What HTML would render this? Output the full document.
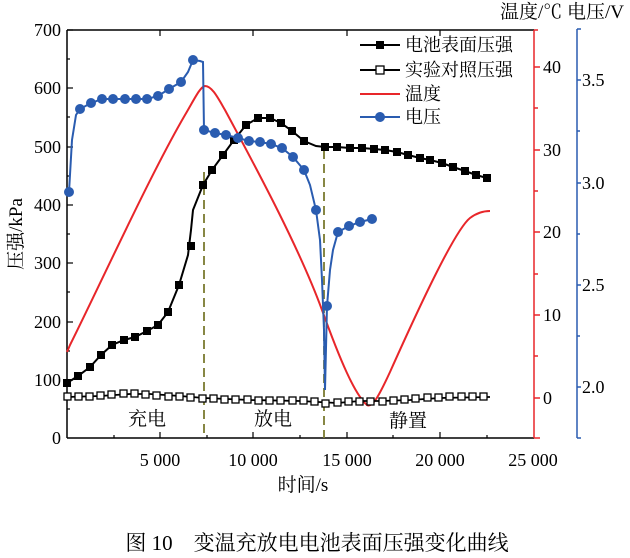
<!DOCTYPE html>
<html><head><meta charset="utf-8"><style>
html,body{margin:0;padding:0;background:#fff;}
svg{display:block;font-family:"Liberation Serif","Noto Serif CJK SC",serif;}
</style></head><body>
<svg width="630" height="558" viewBox="0 0 630 558" xmlns="http://www.w3.org/2000/svg">
<rect width="630" height="558" fill="#fff"/>
<g stroke="#000" stroke-width="1.5" fill="none">
<line x1="67" y1="30" x2="67" y2="438"/>
<line x1="67" y1="438" x2="534" y2="438"/>
<line x1="67" y1="30" x2="534" y2="30"/>
</g>
<g stroke="#000" stroke-width="1.2">
<line x1="67" y1="30" x2="73" y2="30"/><line x1="67" y1="88" x2="73" y2="88"/><line x1="67" y1="147" x2="73" y2="147"/><line x1="67" y1="205" x2="73" y2="205"/><line x1="67" y1="263" x2="73" y2="263"/><line x1="67" y1="322" x2="73" y2="322"/><line x1="67" y1="380" x2="73" y2="380"/>
<line x1="67" y1="59" x2="70" y2="59"/><line x1="67" y1="117" x2="70" y2="117"/><line x1="67" y1="176" x2="70" y2="176"/><line x1="67" y1="234" x2="70" y2="234"/><line x1="67" y1="292" x2="70" y2="292"/><line x1="67" y1="351" x2="70" y2="351"/><line x1="67" y1="409" x2="70" y2="409"/>
<line x1="160" y1="438" x2="160" y2="432"/><line x1="253" y1="438" x2="253" y2="432"/><line x1="347" y1="438" x2="347" y2="432"/><line x1="440" y1="438" x2="440" y2="432"/>
<line x1="114" y1="438" x2="114" y2="435"/><line x1="207" y1="438" x2="207" y2="435"/><line x1="300" y1="438" x2="300" y2="435"/><line x1="393" y1="438" x2="393" y2="435"/><line x1="487" y1="438" x2="487" y2="435"/>
<line x1="160" y1="30" x2="160" y2="36"/><line x1="253" y1="30" x2="253" y2="36"/><line x1="347" y1="30" x2="347" y2="36"/><line x1="440" y1="30" x2="440" y2="36"/>
</g>
<g font-size="18" text-anchor="end" fill="#000">
<text x="61" y="36">700</text><text x="61" y="94">600</text><text x="61" y="153">500</text><text x="61" y="211">400</text><text x="61" y="269">300</text><text x="61" y="328">200</text><text x="61" y="386">100</text><text x="61" y="444">0</text>
</g>
<g font-size="18" text-anchor="middle" fill="#000">
<text x="160" y="466">5 000</text><text x="253" y="466">10 000</text><text x="347" y="466">15 000</text><text x="440" y="466">20 000</text><text x="533" y="466">25 000</text>
</g>
<text x="303" y="491" font-size="19" text-anchor="middle">时间/s</text>
<text transform="translate(22,234) rotate(-90)" font-size="19" text-anchor="middle">压强/kPa</text>
<text x="624" y="18" font-size="19" text-anchor="end">温度/℃  电压/V</text>
<g stroke="#e8262a" stroke-width="1.5">
<line x1="534" y1="30" x2="534" y2="438"/>
<line x1="534" y1="67" x2="540" y2="67"/><line x1="534" y1="150" x2="540" y2="150"/><line x1="534" y1="232" x2="540" y2="232"/><line x1="534" y1="315" x2="540" y2="315"/><line x1="534" y1="398" x2="540" y2="398"/><line x1="534" y1="438" x2="540" y2="438"/>
<line x1="534" y1="30" x2="538" y2="30"/><line x1="534" y1="108" x2="538" y2="108"/><line x1="534" y1="191" x2="538" y2="191"/><line x1="534" y1="274" x2="538" y2="274"/><line x1="534" y1="356" x2="538" y2="356"/>
</g>
<g font-size="18" fill="#000">
<text x="543" y="73">40</text><text x="543" y="156">30</text><text x="543" y="238">20</text><text x="543" y="321">10</text><text x="543" y="404">0</text>
</g>
<g stroke="#2a5cb0" stroke-width="1.5">
<line x1="577" y1="29" x2="577" y2="438"/>
<line x1="577" y1="29" x2="581" y2="29"/><line x1="577" y1="80" x2="581" y2="80"/><line x1="577" y1="131" x2="580" y2="131"/><line x1="577" y1="183" x2="581" y2="183"/><line x1="577" y1="234" x2="580" y2="234"/><line x1="577" y1="285" x2="581" y2="285"/><line x1="577" y1="336" x2="580" y2="336"/><line x1="577" y1="387" x2="581" y2="387"/><line x1="577" y1="438" x2="581" y2="438"/>
</g>
<g font-size="18" fill="#000">
<text x="582" y="86">3.5</text><text x="582" y="189">3.0</text><text x="582" y="291">2.5</text><text x="582" y="393">2.0</text>
</g>
<g stroke="#7a7a30" stroke-width="1.8" stroke-dasharray="9,5">
<line x1="204" y1="172" x2="204" y2="438"/>
<line x1="324" y1="150" x2="324" y2="438"/>
</g>
<path fill="none" stroke="#e8262a" stroke-width="2" d="M67,352 L70,345 C100,285 150,175 185,115 C195,98 200,87 205,86 C212,86 218,98 225,110 C260,175 300,250 322,310 C340,360 355,395 367,405 C372,408 378,398 390,372 C420,305 455,230 470,218 C478,212 485,211 490,211"/>
<polyline fill="none" stroke="#000" stroke-width="1.8" points="67,397 100,396 130,394 150,394 180,396 204,398 250,400 300,401 337,403 360,401 380,401 410,400 440,398 487,397 490,397"/>
<g fill="#fff" stroke="#000" stroke-width="1.3">
<rect x="64" y="393" width="7" height="7"/><rect x="75" y="393" width="7" height="7"/><rect x="86" y="393" width="7" height="7"/><rect x="97" y="392" width="7" height="7"/><rect x="108" y="391" width="7" height="7"/><rect x="120" y="390" width="7" height="7"/><rect x="131" y="390" width="7" height="7"/><rect x="142" y="391" width="7" height="7"/><rect x="153" y="392" width="7" height="7"/><rect x="165" y="393" width="7" height="7"/><rect x="176" y="393" width="7" height="7"/><rect x="187" y="394" width="7" height="7"/><rect x="199" y="395" width="7" height="7"/><rect x="210" y="395" width="7" height="7"/><rect x="221" y="396" width="7" height="7"/><rect x="232" y="396" width="7" height="7"/><rect x="244" y="396" width="7" height="7"/><rect x="255" y="397" width="7" height="7"/><rect x="266" y="397" width="7" height="7"/><rect x="277" y="397" width="7" height="7"/><rect x="289" y="397" width="7" height="7"/><rect x="300" y="397" width="7" height="7"/><rect x="311" y="398" width="7" height="7"/><rect x="322" y="400" width="7" height="7"/><rect x="334" y="399" width="7" height="7"/><rect x="345" y="398" width="7" height="7"/><rect x="356" y="398" width="7" height="7"/><rect x="367" y="398" width="7" height="7"/><rect x="379" y="398" width="7" height="7"/><rect x="390" y="397" width="7" height="7"/><rect x="401" y="396" width="7" height="7"/><rect x="412" y="395" width="7" height="7"/><rect x="424" y="394" width="7" height="7"/><rect x="435" y="394" width="7" height="7"/><rect x="446" y="393" width="7" height="7"/><rect x="458" y="393" width="7" height="7"/><rect x="469" y="393" width="7" height="7"/><rect x="480" y="393" width="7" height="7"/>
</g>
<polyline fill="none" stroke="#000" stroke-width="2" points="67,383 78,376 90,367 101,355 112,345 124,340 135,337 147,331 158,325 168,312 179,285 188,255 191,230 193,210 197,200 203,185 212,170 223,155 234,140 246,125 258,118 270,118 281,123 292,131 304,141 316,146 325,147 337,147 350,148 362,148 374,149 385,150 397,152 408,155 420,158 430,160 442,163 453,167 465,171 476,175 487,178"/>
<g fill="#000">
<rect x="63" y="379" width="8" height="8"/><rect x="74" y="372" width="8" height="8"/><rect x="86" y="363" width="8" height="8"/><rect x="97" y="351" width="8" height="8"/><rect x="108" y="341" width="8" height="8"/><rect x="120" y="336" width="8" height="8"/><rect x="131" y="333" width="8" height="8"/><rect x="143" y="327" width="8" height="8"/><rect x="154" y="321" width="8" height="8"/><rect x="164" y="308" width="8" height="8"/><rect x="175" y="281" width="8" height="8"/><rect x="187" y="242" width="8" height="8"/><rect x="199" y="181" width="8" height="8"/><rect x="208" y="166" width="8" height="8"/><rect x="219" y="151" width="8" height="8"/><rect x="230" y="136" width="8" height="8"/><rect x="242" y="121" width="8" height="8"/><rect x="254" y="114" width="8" height="8"/><rect x="266" y="114" width="8" height="8"/><rect x="277" y="119" width="8" height="8"/><rect x="288" y="127" width="8" height="8"/><rect x="300" y="137" width="8" height="8"/><rect x="321" y="143" width="8" height="8"/><rect x="333" y="143" width="8" height="8"/><rect x="346" y="144" width="8" height="8"/><rect x="358" y="144" width="8" height="8"/><rect x="370" y="145" width="8" height="8"/><rect x="381" y="146" width="8" height="8"/><rect x="393" y="148" width="8" height="8"/><rect x="404" y="151" width="8" height="8"/><rect x="416" y="154" width="8" height="8"/><rect x="426" y="156" width="8" height="8"/><rect x="438" y="159" width="8" height="8"/><rect x="449" y="163" width="8" height="8"/><rect x="461" y="167" width="8" height="8"/><rect x="472" y="171" width="8" height="8"/><rect x="483" y="174" width="8" height="8"/>
</g>
<polyline fill="none" stroke="#2a5cb0" stroke-width="2" points="69,192 72,140 76,115 80,109 91,103 102,99 113,99 125,99 136,99 147,99 158,96 169,89 181,82 188,72 193,60 200,61 203,62 204,130 215,133 226,135 238,138 249,141 260,142 271,144 282,148 293,157 304,170 310,185 316,210 320,240 322,280 324,330 325,390 327,306 330,270 333,250 338,232 349,226 360,222 372,219"/>
<g fill="#2a5cb0">
<circle cx="69" cy="192" r="5"/><circle cx="80" cy="109" r="5"/><circle cx="91" cy="103" r="5"/><circle cx="102" cy="99" r="5"/><circle cx="113" cy="99" r="5"/><circle cx="125" cy="99" r="5"/><circle cx="136" cy="99" r="5"/><circle cx="147" cy="99" r="5"/><circle cx="158" cy="96" r="5"/><circle cx="169" cy="89" r="5"/><circle cx="181" cy="82" r="5"/><circle cx="193" cy="60" r="5"/><circle cx="204" cy="130" r="5"/><circle cx="215" cy="133" r="5"/><circle cx="226" cy="135" r="5"/><circle cx="238" cy="138" r="5"/><circle cx="249" cy="141" r="5"/><circle cx="260" cy="142" r="5"/><circle cx="271" cy="144" r="5"/><circle cx="282" cy="148" r="5"/><circle cx="293" cy="157" r="5"/><circle cx="304" cy="170" r="5"/><circle cx="316" cy="210" r="5"/><circle cx="327" cy="306" r="5"/><circle cx="338" cy="232" r="5"/><circle cx="349" cy="226" r="5"/><circle cx="360" cy="222" r="5"/><circle cx="372" cy="219" r="5"/>
</g>
<g font-size="19" fill="#000" text-anchor="middle">
<text x="147" y="425">充电</text><text x="273" y="425">放电</text><text x="408" y="427">静置</text>
</g>
<g stroke-width="2">
<line x1="360" y1="45" x2="400" y2="45" stroke="#000"/><rect x="376" y="41" width="8" height="8" fill="#000"/>
<line x1="360" y1="70" x2="400" y2="70" stroke="#000"/><rect x="376" y="66" width="8" height="8" fill="#fff" stroke="#000" stroke-width="1.3"/>
<line x1="360" y1="94" x2="400" y2="94" stroke="#e8262a"/>
<line x1="360" y1="117" x2="400" y2="117" stroke="#2a5cb0"/><circle cx="380" cy="117" r="5" fill="#2a5cb0" stroke="none"/>
</g>
<g font-size="18" fill="#000">
<text x="405" y="51">电池表面压强</text><text x="405" y="76">实验对照压强</text><text x="405" y="100">温度</text><text x="405" y="123">电压</text>
</g>
<text x="317" y="550" font-size="21" text-anchor="middle">图 10　变温充放电电池表面压强变化曲线</text>
</svg>
</body></html>
